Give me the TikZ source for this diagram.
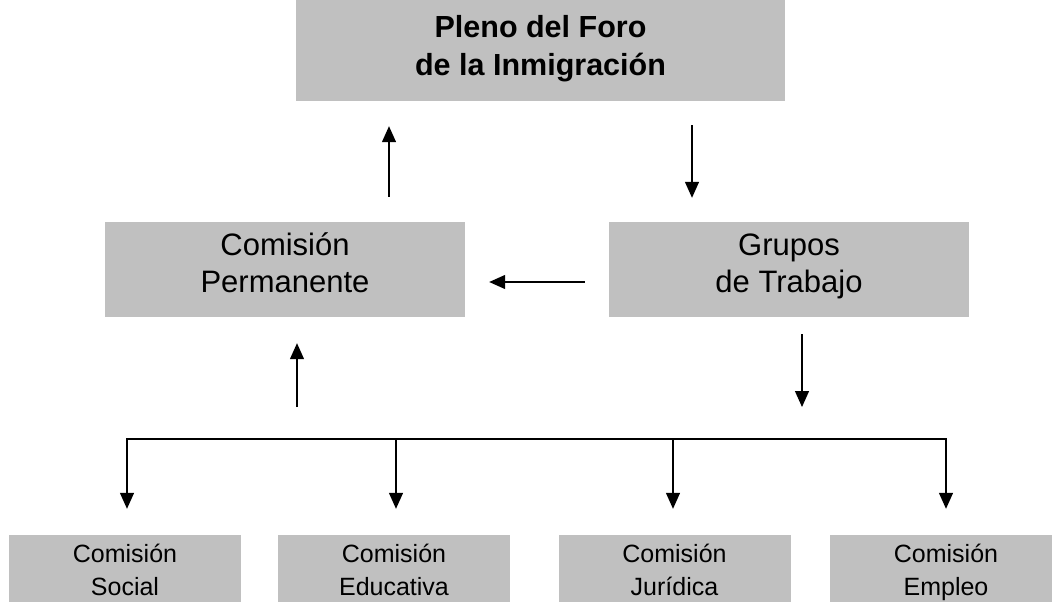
\documentclass[tikz,border=0pt]{standalone}
\usepackage{fontspec}
\setmainfont{Liberation Sans}
\usetikzlibrary{arrows.meta,positioning,calc}
\definecolor{boxgray}{RGB}{192,192,192}
\tikzset{gray box/.style={fill=boxgray,draw=none,align=center,inner sep=0pt,text depth=0pt},
         mid box/.style={gray box,minimum width=360pt,minimum height=95pt,text height=45pt,
                         font=\fontsize{31}{37}\selectfont},
         small box/.style={gray box,minimum width=232pt,minimum height=77pt,text height=43pt,
                         font=\fontsize{25}{33}\selectfont},
         flow arrow/.style={line width=1.3pt,-{Triangle[length=16pt,width=14pt]}}}

\begin{document}
\begin{tikzpicture}[x=1pt,y=-1pt]
        \useasboundingbox (0,0) rectangle (1052,602);
        %
        % boxes
        \node[gray box,minimum width=489pt,minimum height=101pt,text height=49pt,
              font=\fontsize{30.5}{38}\selectfont\bfseries] (pleno) at (540.5,50.5) {Pleno del Foro\\de la Inmigración};
        \node[mid box] (perm) at (285,269.5) {Comisión\\Permanente};
        \node[mid box] (grupos) at (789,269.5) {Grupos\\de Trabajo};
        \foreach \Name/\X/\Txt in {soc/125/Social,edu/394/Educativa,jur/674.5/Jurídica,emp/946/Empleo}
            {\node[small box] (\Name) at (\X,573.5) {Comisión\\\Txt};}
        %
        % arrows between the upper boxes
        \draw[flow arrow,shorten <=25pt,shorten >=25pt] ([xshift=104pt]perm.north) -- ([xshift=104pt]perm.north |- pleno.south);
        \draw[flow arrow,shorten <=24pt,shorten >=24pt] ([xshift=151.5pt]pleno.south) -- ([xshift=151.5pt]pleno.south |- grupos.north);
        \draw[flow arrow,shorten <=24pt,shorten >=24pt] ([yshift=-12.5pt]grupos.west) -- ([yshift=-12.5pt]grupos.west -| perm.east);
        \coordinate (up end) at (297,407);
        \coordinate (down end) at (802,407);
        \draw[flow arrow,shorten >=26pt] (up end) -- (up end |- perm.south);
        \draw[flow arrow,shorten <=17pt] (down end |- grupos.south) -- (down end);
        %
        % bus to the commissions
        \coordinate (bus) at (0,439);
        \draw[line width=1.3pt,line cap=rect] ([xshift=2pt]soc.north |- bus) -- ([xshift=0pt]emp.north |- bus);
        \foreach \Name/\D in {soc/2,edu/2,jur/-1.5,emp/0}
            {\draw[flow arrow,shorten >=26pt] ([xshift=\D pt]\Name.north |- bus) -- ([xshift=\D pt]\Name.north);}
\end{tikzpicture}
\end{document}
